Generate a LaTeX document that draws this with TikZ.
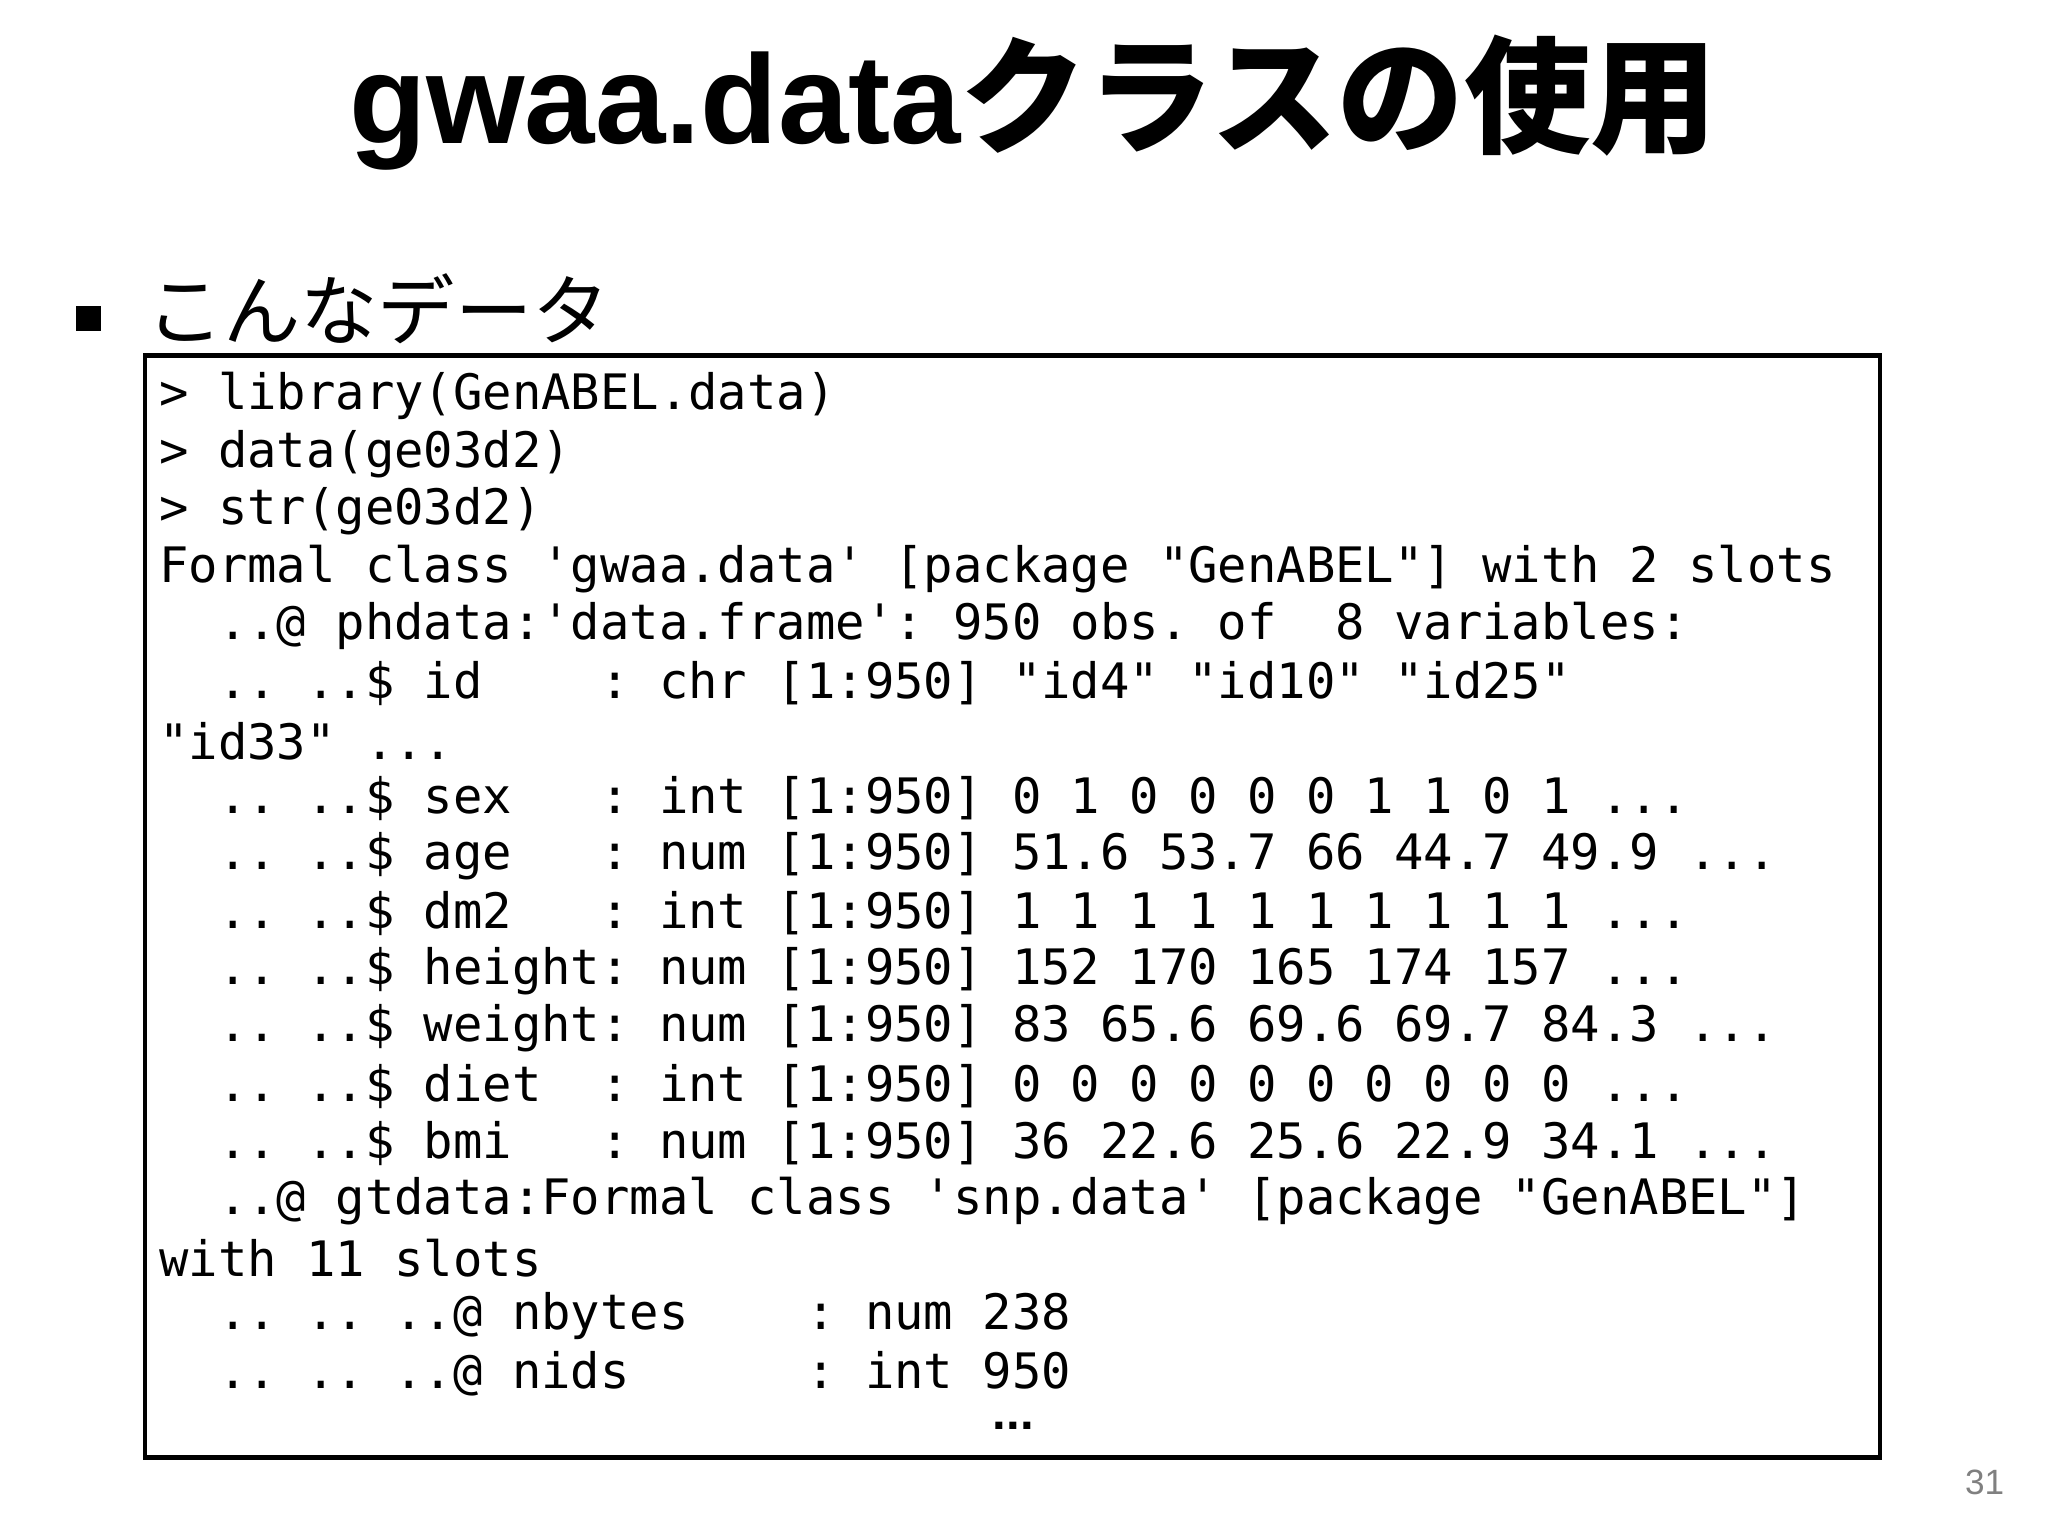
\documentclass[tikz,border=0pt]{standalone}
\usepackage{fontspec}
\setmainfont{Liberation Sans}
\setmonofont{DejaVu Sans Mono}
\newfontfamily\cjk{Noto Sans CJK JP}
\newfontfamily\cjkb{Noto Sans CJK JP Bold}
\begin{document}
\begin{tikzpicture}[x=0.013213cm,y=-0.013213cm,
  code/.style={anchor=west,inner sep=0pt,font=\ttfamily\fontsize{13.9}{14}\selectfont}]
\useasboundingbox (0,0) rectangle (1550,1162.5);
\node[anchor=center,inner sep=0pt,font=\bfseries\fontsize{36}{40}\selectfont] (title) at (782,78) {gwaa.data{\cjkb クラスの使用}};
\node[fill=black,minimum size=7pt,inner sep=0pt] (bul) at (67,241) {};
\node[anchor=west,inner sep=0pt,font=\cjk\fontsize{22}{24}\selectfont] (sub) at (110,234) {こんなデータ};
\node[draw,line width=1.2pt,minimum width=1313*0.013213cm,minimum height=834*0.013213cm,inner sep=0pt] (box) at (766.5,686) {};
\newcommand\codeline[3]{\node[code] (#1) at (120,#2) {#3};}
\codeline{l1}{300}{>~library(GenABEL.data)}
\codeline{l2}{343.5}{>~data(ge03d2)}
\codeline{l3}{387}{>~str(ge03d2)}
\codeline{l4}{430.5}{Formal~class~'gwaa.data'~[package~"GenABEL"]~with~2~slots}
\codeline{l5}{474}{~~..@~phdata:'data.frame':~950~obs.~of~~8~variables:}
\codeline{l6}{517.5}{~~..~..\$~id~~~~:~chr~[1:950]~"id4"~"id10"~"id25"}
\codeline{l7}{561}{"id33"~...}
\codeline{l8}{604.5}{~~..~..\$~sex~~~:~int~[1:950]~0~1~0~0~0~0~1~1~0~1~...}
\codeline{l9}{648}{~~..~..\$~age~~~:~num~[1:950]~51.6~53.7~66~44.7~49.9~...}
\codeline{l10}{691.5}{~~..~..\$~dm2~~~:~int~[1:950]~1~1~1~1~1~1~1~1~1~1~...}
\codeline{l11}{735}{~~..~..\$~height:~num~[1:950]~152~170~165~174~157~...}
\codeline{l12}{778.5}{~~..~..\$~weight:~num~[1:950]~83~65.6~69.6~69.7~84.3~...}
\codeline{l13}{822}{~~..~..\$~diet~~:~int~[1:950]~0~0~0~0~0~0~0~0~0~0~...}
\codeline{l14}{865.5}{~~..~..\$~bmi~~~:~num~[1:950]~36~22.6~25.6~22.9~34.1~...}
\codeline{l15}{909}{~~..@~gtdata:Formal~class~'snp.data'~[package~"GenABEL"]}
\codeline{l16}{952.5}{with~11~slots}
\codeline{l17}{996}{~~..~..~..@~nbytes~~~~:~num~238}
\codeline{l18}{1039.5}{~~..~..~..@~nids~~~~~~:~int~950}
\node[inner sep=0pt,anchor=base,font=\bfseries\fontsize{14}{14}\selectfont] (dots) at (767,1082) {...};
\node[inner sep=0pt,text=gray,font=\fontsize{10}{12}\selectfont] (pg) at (1502,1122) {31};
\end{tikzpicture}
\end{document}
